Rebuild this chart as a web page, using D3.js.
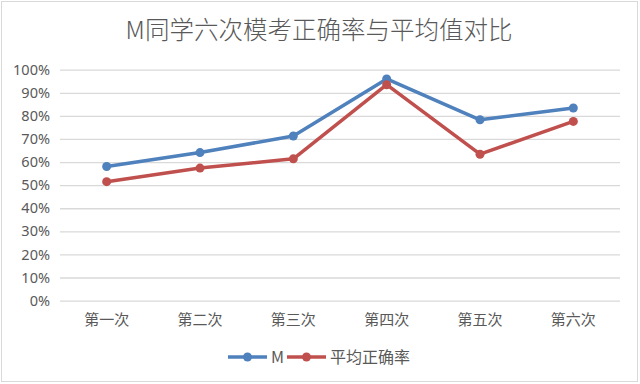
<!DOCTYPE html>
<html><head><meta charset="utf-8">
<script src="https://cdn.jsdelivr.net/npm/d3@7"></script>
<style>body{margin:0;background:#fff}svg{display:block}text{font-family:"Noto Sans CJK SC","Noto Sans",sans-serif;fill:#595959}</style>
</head><body>
<script>
const categories = ["第一次","第二次","第三次","第四次","第五次","第六次"];
const seriesNames = ["M","平均正确率"];
const seriesM = [0.581,0.641,0.713,0.960,0.783,0.834];
const seriesAvg = [0.515,0.574,0.614,0.935,0.634,0.776];
const yTicks = [0,0.1,0.2,0.3,0.4,0.5,0.6,0.7,0.8,0.9,1.0];
const colors = ["#4f81bd","#c0504d"];
const title = "M同学六次模考正确率与平均值对比";

const W=640,H=384;
const svg=d3.select("body").append("svg").attr("width",W).attr("height",H);
svg.append("rect").attr("x",1.5).attr("y",1.5).attr("width",W-4).attr("height",H-4)
  .attr("fill","#fff").attr("stroke","#d9d9d9");

const x=d3.scaleBand().domain(categories).range([60,620]);
const y=d3.scaleLinear().domain([0,1]).range([300.6,69.7]);

svg.append("text").attr("x",319).attr("y",39).attr("text-anchor","middle")
  .style("font-size","24.5px").style("font-weight","300").text(title);

const gy=svg.append("g").attr("transform","translate(60,0)")
  .call(d3.axisLeft(y).tickValues(yTicks).tickFormat(d3.format(".0%")).tickSize(-560).tickPadding(10));
gy.select(".domain").remove();
gy.selectAll("line").attr("stroke","#d9d9d9").attr("stroke-width",1.3);
gy.selectAll("text").style("font-size","14.5px").attr("fill","#595959").style("font-family","'Noto Sans','Noto Sans CJK SC',sans-serif");

const gx=svg.append("g").attr("transform","translate(0,300.6)")
  .call(d3.axisBottom(x).tickSize(0).tickPadding(14));
gx.select(".domain").remove();
gx.selectAll("text").style("font-size","15px").attr("fill","#595959");

const data=[seriesM,seriesAvg];
const line=d3.line().x((d,i)=>x(categories[i])+x.bandwidth()/2).y(d=>y(d));
data.forEach((s,k)=>{
  svg.append("path").datum(s).attr("d",line).attr("fill","none")
    .attr("stroke",colors[k]).attr("stroke-width",3.5).attr("stroke-linejoin","round").attr("stroke-linecap","round");
  svg.selectAll(null).data(s).enter().append("circle")
    .attr("cx",(d,i)=>x(categories[i])+x.bandwidth()/2).attr("cy",d=>y(d)).attr("r",4.5).attr("fill",colors[k]);
});

// legend
const leg=[{x:228,tx:271},{x:287,tx:330}];
seriesNames.forEach((n,k)=>{
  const g=svg.append("g");
  g.append("line").attr("x1",leg[k].x).attr("x2",leg[k].x+39).attr("y1",357).attr("y2",357)
    .attr("stroke",colors[k]).attr("stroke-width",3.5);
  g.append("circle").attr("cx",leg[k].x+19.5).attr("cy",357).attr("r",4.5).attr("fill",colors[k]);
  g.append("text").attr("x",leg[k].tx).attr("y",357).attr("dy","0.35em").style("font-size","16px").text(n);
});
</script>
</body></html>
